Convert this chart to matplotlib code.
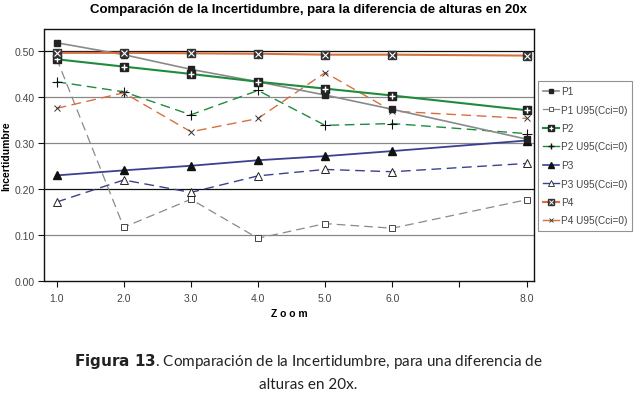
import matplotlib
matplotlib.use("Agg")
from matplotlib import pyplot as plt
from matplotlib.lines import Line2D
from matplotlib.legend_handler import HandlerTuple
import numpy as np

# zoom levels
zoom = [1, 2, 3, 4, 5, 6, 8]

p1 = [0.519, 0.493, 0.461, 0.434, 0.405, 0.374, 0.309]
p1_u95 = [0.485, 0.117, 0.178, 0.093, 0.125, 0.115, 0.177]
p2 = [0.483, 0.467, 0.451, 0.434, 0.419, 0.404, 0.372]
p2_u95 = [0.434, 0.412, 0.362, 0.415, 0.339, 0.343, 0.321]
p3 = [0.230, 0.241, 0.251, 0.263, 0.272, 0.283, 0.306]
p3_u95 = [0.172, 0.220, 0.193, 0.229, 0.243, 0.238, 0.256]
p4 = [0.497, 0.497, 0.496, 0.495, 0.493, 0.493, 0.491]
p4_u95 = [0.376, 0.410, 0.325, 0.354, 0.454, 0.370, 0.354]

x_ticks = [1, 2, 3, 4, 5, 6, 7, 8]
x_labels = ["1.0", "2.0", "3.0", "4.0", "5.0", "6.0", "", "8.0"]
y_ticks = [0.0, 0.1, 0.2, 0.3, 0.4, 0.5]

plt.rcParams['font.family'] = ['Liberation Sans', 'DejaVu Sans']

gray = '#8a8a8a'
green = '#1e8c3c'
navy = '#3b4190'
orange = '#d8703e'

fig = plt.figure(figsize=(6.34, 4.02), dpi=100)
ax = fig.add_axes([44.5 / 634, 1 - 282 / 402, (534 - 44.5) / 634, (282 - 29.5) / 402])
ax.set_xlim(0.82, 8.11)
ax.set_ylim(0, 0.55)

# horizontal grid
for yv, c in zip([0.1, 0.2, 0.3, 0.4, 0.5], ['#888888', '#111111', '#888888', '#888888', '#111111']):
    ax.axhline(yv, color=c, lw=0.9, zorder=1)

ms = 4.5
ax.plot(zoom, p1_u95, color=gray, lw=0.9, ls=(0, (7, 4)), marker='s', ms=ms,
        mfc='white', mec='#444444', mew=0.7, zorder=2)
ax.plot(zoom, p3_u95, color=navy, lw=1.0, ls=(0, (7, 4)), marker='^', ms=ms + 1,
        mfc='white', mec='#222222', mew=0.7, zorder=2)
ax.plot(zoom, p2_u95, color=green, lw=1.0, ls=(0, (7, 4)), marker='+', ms=ms + 2,
        mec='#111111', mew=0.8, zorder=2)
ax.plot(zoom, p4_u95, color=orange, lw=1.0, ls=(0, (7, 4)), marker='x', ms=ms,
        mec='#333333', mew=0.7, zorder=2)

ax.plot(zoom, p3, color=navy, lw=1.3, marker='^', ms=ms + 1, mfc='#111111', mec='#111111', zorder=3)
ax.plot(zoom, p1, color=gray, lw=1.2, marker='s', ms=ms, mfc='#222222', mec='#222222', zorder=3)
ax.plot(zoom, p2, color=green, lw=1.5, marker='s', ms=ms + 1.5, mfc='#222222', mec='#222222', zorder=4)
ax.plot(zoom, p2, ls='none', marker='+', ms=ms, mec='white', mew=1.0, zorder=4)
ax.plot(zoom, p4, color=orange, lw=1.5, marker='s', ms=ms + 1.5, mfc='#333333', mec='#333333', zorder=4)
ax.plot(zoom, p4, ls='none', marker='x', ms=ms - 0.5, mec='white', mew=0.8, zorder=4)

ax.set_xticks(x_ticks)
ax.set_xticklabels(x_labels)
ax.set_yticks(y_ticks)
ax.set_yticklabels(["%.2f" % v for v in y_ticks])
ax.tick_params(axis='both', labelsize=7.5, colors='#111111', labelcolor='#444444',
               length=4, width=0.8, direction='out')
ax.tick_params(axis='x', pad=5)
ax.tick_params(axis='y', pad=3)
for s in ax.spines.values():
    s.set_linewidth(1.0)
    s.set_color('#111111')

ax.set_xlabel("Z o o m", fontsize=7.5, fontweight='bold', labelpad=3)
ax.set_ylabel("Incertidumbre", fontsize=7.5, fontweight='bold', labelpad=2)
fig.text(308 / 634, 1 - 10 / 402, "Comparación de la Incertidumbre, para la diferencia de alturas en 20x",
         ha='center', va='center', fontsize=9.5, fontweight='bold')

# legend
def h(**kw):
    return Line2D([], [], **kw)

handles = [
    h(color=gray, lw=1.2, marker='s', ms=3.5, mfc='#222222', mec='#222222'),
    h(color=gray, lw=0.9, marker='s', ms=3.5, mfc='white', mec='#444444', mew=0.6),
    (h(color=green, lw=1.5, marker='s', ms=5, mfc='#222222', mec='#222222'),
     h(ls='none', marker='+', ms=3.5, mec='white', mew=0.9)),
    h(color=green, lw=1.0, marker='+', ms=5, mec='#111111'),
    h(color=navy, lw=1.2, marker='^', ms=4, mfc='#111111', mec='#111111'),
    h(color=navy, lw=1.0, marker='^', ms=4.5, mfc='white', mec='#222222', mew=0.6),
    (h(color=orange, lw=1.5, marker='s', ms=5, mfc='#333333', mec='#333333'),
     h(ls='none', marker='x', ms=3, mec='white', mew=0.7)),
    h(color=orange, lw=1.0, marker='x', ms=3.5, mec='#333333', mew=0.6),
]
labels = ["P1", "P1 U95(Cci=0)", "P2", "P2 U95(Cci=0)", "P3", "P3 U95(Cci=0)", "P4", "P4 U95(Cci=0)"]
leg = fig.legend(handles, labels, loc='upper left', bbox_to_anchor=(538 / 634, 1 - 82 / 402),
                 fontsize=7.2, frameon=True, fancybox=False, handlelength=1.6, handletextpad=0.2,
                 labelspacing=0.85, borderpad=0.5, borderaxespad=0,
                 handler_map={tuple: HandlerTuple(ndivide=1, pad=0)})
leg.get_frame().set_edgecolor('#777777')
leg.get_frame().set_linewidth(0.8)
for t in leg.get_texts():
    t.set_color('#444444')

# caption
fig.text(308 / 634, 1 - 362 / 402, r"$\bf{Figura\ 13}$. Comparación de la Incertidumbre, para una diferencia de",
         ha='center', va='center', fontsize=11, color='#222222', family=['Lato', 'DejaVu Sans'])
fig.text(308 / 634, 1 - 385 / 402, "alturas en 20x.",
         ha='center', va='center', fontsize=11, color='#222222', family=['Lato', 'DejaVu Sans'])

fig.savefig("out.png", dpi=100)
